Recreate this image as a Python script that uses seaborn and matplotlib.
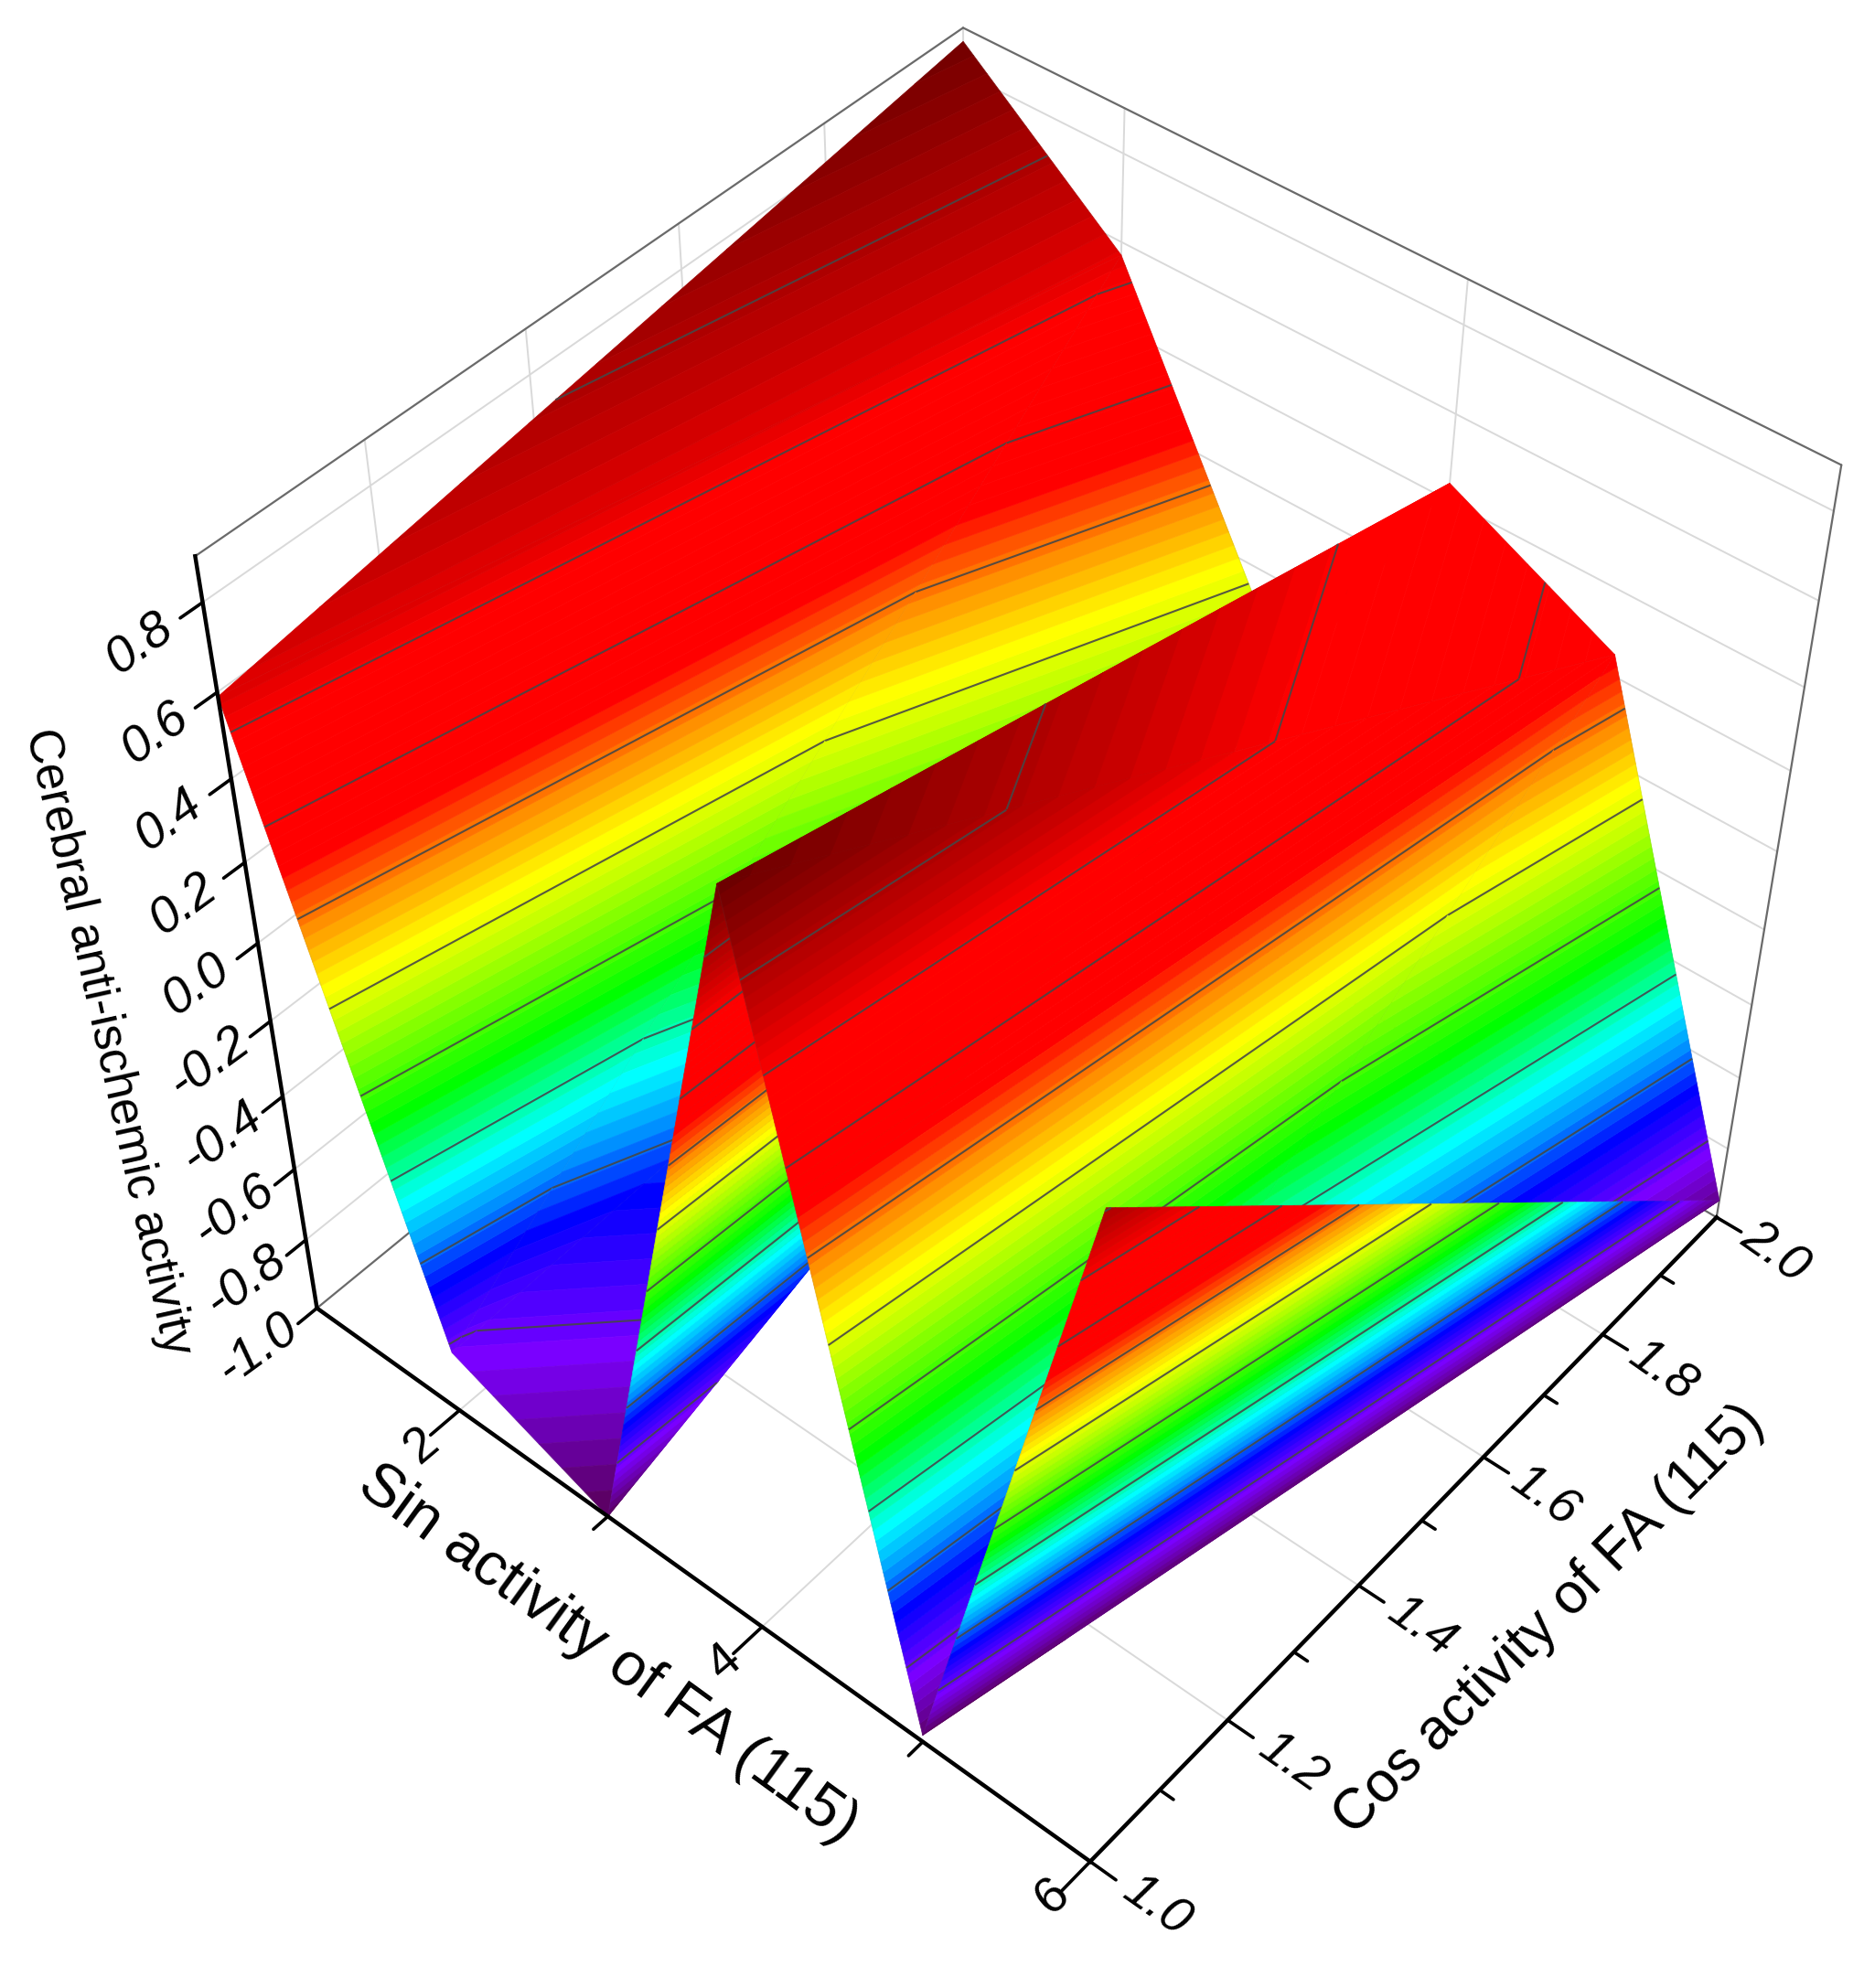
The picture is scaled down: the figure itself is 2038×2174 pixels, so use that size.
import numpy as np
import matplotlib
matplotlib.use("Agg")
import matplotlib.pyplot as plt
import seaborn as sns
from mpl_toolkits.mplot3d.art3d import Poly3DCollection, Line3DCollection

# ---- data
sin_values = [1, 2, 3, 4, 5, 6]
cos_values = [1.0, 2.0]
activity_at_cos_1 = [0.59, -0.83, -1.00, 0.895, -0.98, 0.72]
activity_at_cos_2 = [0.87, 0.57, -0.15, 0.44, 0.25, -0.95]
contour_levels = [0.71, 0.52, 0.33, 0.14, -0.05, -0.24, -0.43, -0.62, -0.81]
z_ticks = [-1.0, -0.8, -0.6, -0.4, -0.2, 0.0, 0.2, 0.4, 0.6, 0.8]
sin_major = [2, 4, 6]
sin_minor = [3, 5]
cos_major = [1.0, 1.2, 1.4, 1.6, 1.8, 2.0]
cos_minor = [1.1, 1.3, 1.5, 1.7, 1.9]
z_range = (-1.0, 0.9)
sin_label = "Sin activity of FA (115)"
cos_label = "Cos activity of FA (115)"
z_label = "Cerebral anti-ischemic activity"

# colour bands: (colour, number of bands up to the next colour)
band_stops = ["#5c0066", "#7a00ff", "#0000ff", "#0090ff", "#00ffff", "#00ff00",
              "#c8ff00", "#ffff00", "#ff9000", "#ff0000", "#ff0000", "#c80000", "#640000"]
band_counts = [6, 6, 4, 4, 7, 9, 3, 5, 5, 11, 5, 11]

W, H = 2038, 2174
sns.set_theme(style="white")
plt.rcParams["font.family"] = ["Liberation Sans", "DejaVu Sans"]
plt.rcParams["text.color"] = "black"

# ---- camera: solved from where the box corners and ticks sit in the picture
calib_world = np.array([
    (1, 1, -1), (6, 1, -1), (6, 2, -1), (6, 2, .9), (1, 1, .9), (1, 2, .9),
    (2, 1, -1), (3, 1, -1), (6, 1.2, -1), (6, 1.8, -1),
    (1, 1, .8), (1, 1, .6), (1, 1, .4), (1, 1, .2)], float)
calib_pixel = np.array([
    (347, 1432), (1192, 2036), (1877, 1332), (2013, 509), (213, 607), (1053, 30),
    (503, 1543), (663, 1655), (1343, 1882), (1752, 1458),
    (222, 657), (239, 760), (252, 853), (267, 942)], float)


def solve_camera(world, pixel):
    rows = []
    for (x, y, z), (u, v) in zip(world, pixel):
        u, v = u / 1000, v / 1000
        rows.append([x, y, z, 1, 0, 0, 0, 0, -u * x, -u * y, -u * z, -u])
        rows.append([0, 0, 0, 0, x, y, z, 1, -v * x, -v * y, -v * z, -v])
    h = np.linalg.svd(np.array(rows))[2][-1].reshape(3, 4)
    h[:2] *= 1000
    if h[2] @ np.array([3, 1.5, 0, 1]) < 0:
        h = -h
    return h


P = solve_camera(calib_world, calib_pixel)
M = np.vstack([P[0], P[1], P[2] - np.array([0, 0, 0, 0.5 * (P[2] @ [3, 1.5, 0, 1])]), P[2]])


def to_px(s, c, z):
    v = P @ np.array([s, c, z, 1.0])
    return v[0] / v[2], v[1] / v[2]


fig = plt.figure(figsize=(W / 100, H / 100), dpi=100, facecolor="white")
ax = fig.add_axes([0, 0, 1, 1], projection="3d", computed_zorder=False)
ax.set_axis_off()
ax.patch.set_visible(False)
ax.set_proj_type("ortho")
ax.get_proj = lambda: M
ax.apply_aspect = lambda position=None: None
ax.viewLim.intervalx = (0, W)
ax.viewLim.intervaly = (H, 0)

# ---- band colours
band_colors = []
for i, n in enumerate(band_counts):
    band_colors += sns.blend_palette([band_stops[i], band_stops[i + 1]], n + 1)[:n]
band_edges = np.linspace(z_range[0], z_range[1], len(band_colors) + 1)


def clip_band(tri, lo, hi):
    poly = [np.asarray(p, float) for p in tri]
    for limit, keep_above in ((lo, True), (hi, False)):
        out = []
        for i, a in enumerate(poly):
            b = poly[(i + 1) % len(poly)]
            ina = a[2] >= limit if keep_above else a[2] <= limit
            inb = b[2] >= limit if keep_above else b[2] <= limit
            if ina:
                out.append(a)
            if ina != inb:
                out.append(a + (b - a) * (limit - a[2]) / (b[2] - a[2]))
        poly = out
        if not poly:
            return None
    return poly if len(poly) >= 3 else None


def contour_segment(tri, level):
    pts = []
    for i in range(3):
        a, b = np.asarray(tri[i], float), np.asarray(tri[(i + 1) % 3], float)
        if (a[2] - level) * (b[2] - level) < 0:
            pts.append(a + (b - a) * (level - a[2]) / (b[2] - a[2]))
    return pts if len(pts) == 2 else None


# ---- walls, floor, frame
GRID = dict(color="#d9d9d9", lw=1.4, zorder=1)
FRAME = dict(color="#6a6a6a", lw=1.6, zorder=2)
AXIS = dict(color="black", lw=3.2, zorder=200, solid_capstyle="projecting")
ztop = z_range[1]
zb = z_range[0]
for z in z_ticks[1:]:
    ax.plot([1, 1], [1, 2], [z, z], **GRID)
    ax.plot([1, 6], [2, 2], [z, z], **GRID)
for c in cos_major[1:-1]:
    ax.plot([1, 1], [c, c], [zb, ztop], **GRID)
    ax.plot([1, 6], [c, c], [zb, zb], **GRID)
for s in sin_major[:-1]:
    ax.plot([s, s], [2, 2], [zb, ztop], **GRID)
    ax.plot([s, s], [1, 2], [zb, zb], **GRID)
ax.plot([1, 1], [2, 2], [zb, ztop], **GRID)
ax.plot([1, 1], [1, 2], [zb, zb], **FRAME)
ax.plot([1, 6], [2, 2], [zb, zb], **FRAME)
ax.plot([1, 1], [1, 2], [ztop, ztop], **FRAME)
ax.plot([1, 6], [2, 2], [ztop, ztop], **FRAME)
ax.plot([6, 6], [2, 2], [zb, ztop], **FRAME)

# ---- surface, drawn cell by cell from the far side to the near side
order = 10
for k in range(len(sin_values) - 1):
    s0, s1 = sin_values[k], sin_values[k + 1]
    c0, c1 = cos_values
    a = (s0, c0, activity_at_cos_1[k])
    b = (s1, c0, activity_at_cos_1[k + 1])
    d = (s0, c1, activity_at_cos_2[k])
    e = (s1, c1, activity_at_cos_2[k + 1])
    for tri in ((a, e, d), (a, b, e)):
        polys, cols = [], []
        for i, col in enumerate(band_colors):
            p = clip_band(tri, band_edges[i], band_edges[i + 1])
            if p is not None:
                polys.append(p)
                cols.append(col)
        ax.add_collection3d(Poly3DCollection(polys, facecolors=cols, edgecolors=cols,
                                             linewidths=0.5, zorder=order))
        segs = [contour_segment(tri, lv) for lv in contour_levels]
        segs = [s for s in segs if s is not None]
        ax.add_collection3d(Line3DCollection(segs, colors=[(0.28, 0.28, 0.28, 0.9)],
                                             linewidths=1.5, zorder=order + 1))
        mesh = [[tri[0], tri[1]], [tri[1], tri[2]]]
        ax.add_collection3d(Line3DCollection(mesh, colors=[(0.4, 0.4, 0.4, 0.12)],
                                             linewidths=0.8, zorder=order + 1))
        order += 2

# ---- bold axes, ticks and their labels
ax.plot([1, 1], [1, 1], [zb, ztop], **AXIS)
ax.plot([1, 6], [1, 1], [zb, zb], **AXIS)
ax.plot([6, 6], [1, 2], [zb, zb], **AXIS)
TICK = dict(color="black", lw=2.6, zorder=200)


def tick_label(s, c, z, dx, dy, text, **kw):
    x, y = to_px(s, c, z)
    ax.text2D(x + dx, y + dy, text, transform=ax.transData, fontsize=40,
              ha="center", va="center", zorder=210, **kw)


for z in z_ticks:
    ax.plot([1, 1], [1, 1 - 0.026], [z, z], **TICK)
    tick_label(1, 1, z, -68 + (0.8 - z) * 2, 46, f"{z:.1f}", style="italic", rotation=36)
for s in sin_major:
    ax.plot([s, s], [1, 1 - 0.04], [zb, zb], **TICK)
    tick_label(s, 1, zb, -41, 39, str(s), rotation=40)
for s in sin_minor:
    ax.plot([s, s], [1, 1 - 0.02], [zb, zb], **TICK)
for c in cos_major:
    ax.plot([6, 6 + 0.15], [c, c], [zb, zb], **TICK)
    tick_label(6, c, zb, 73 - (c - 1) * 10, 50 - (c - 1) * 11, f"{c:.1f}", style="italic", rotation=-35)
for c in cos_minor:
    ax.plot([6, 6 + 0.08], [c, c], [zb, zb], **TICK)

ax.text2D(665, 1809, sin_label, transform=ax.transData, fontsize=48, rotation=-36,
          rotation_mode="anchor", ha="center", va="center", zorder=210)
ax.text2D(1694, 1772, cos_label, transform=ax.transData, fontsize=45, rotation=45,
          rotation_mode="anchor", ha="center", va="center", zorder=210)
ax.text2D(118, 1139, z_label, transform=ax.transData, fontsize=38, rotation=-77.5,
          rotation_mode="anchor", ha="center", va="center", zorder=210)

fig.savefig("out.png", dpi=100, facecolor="white")
